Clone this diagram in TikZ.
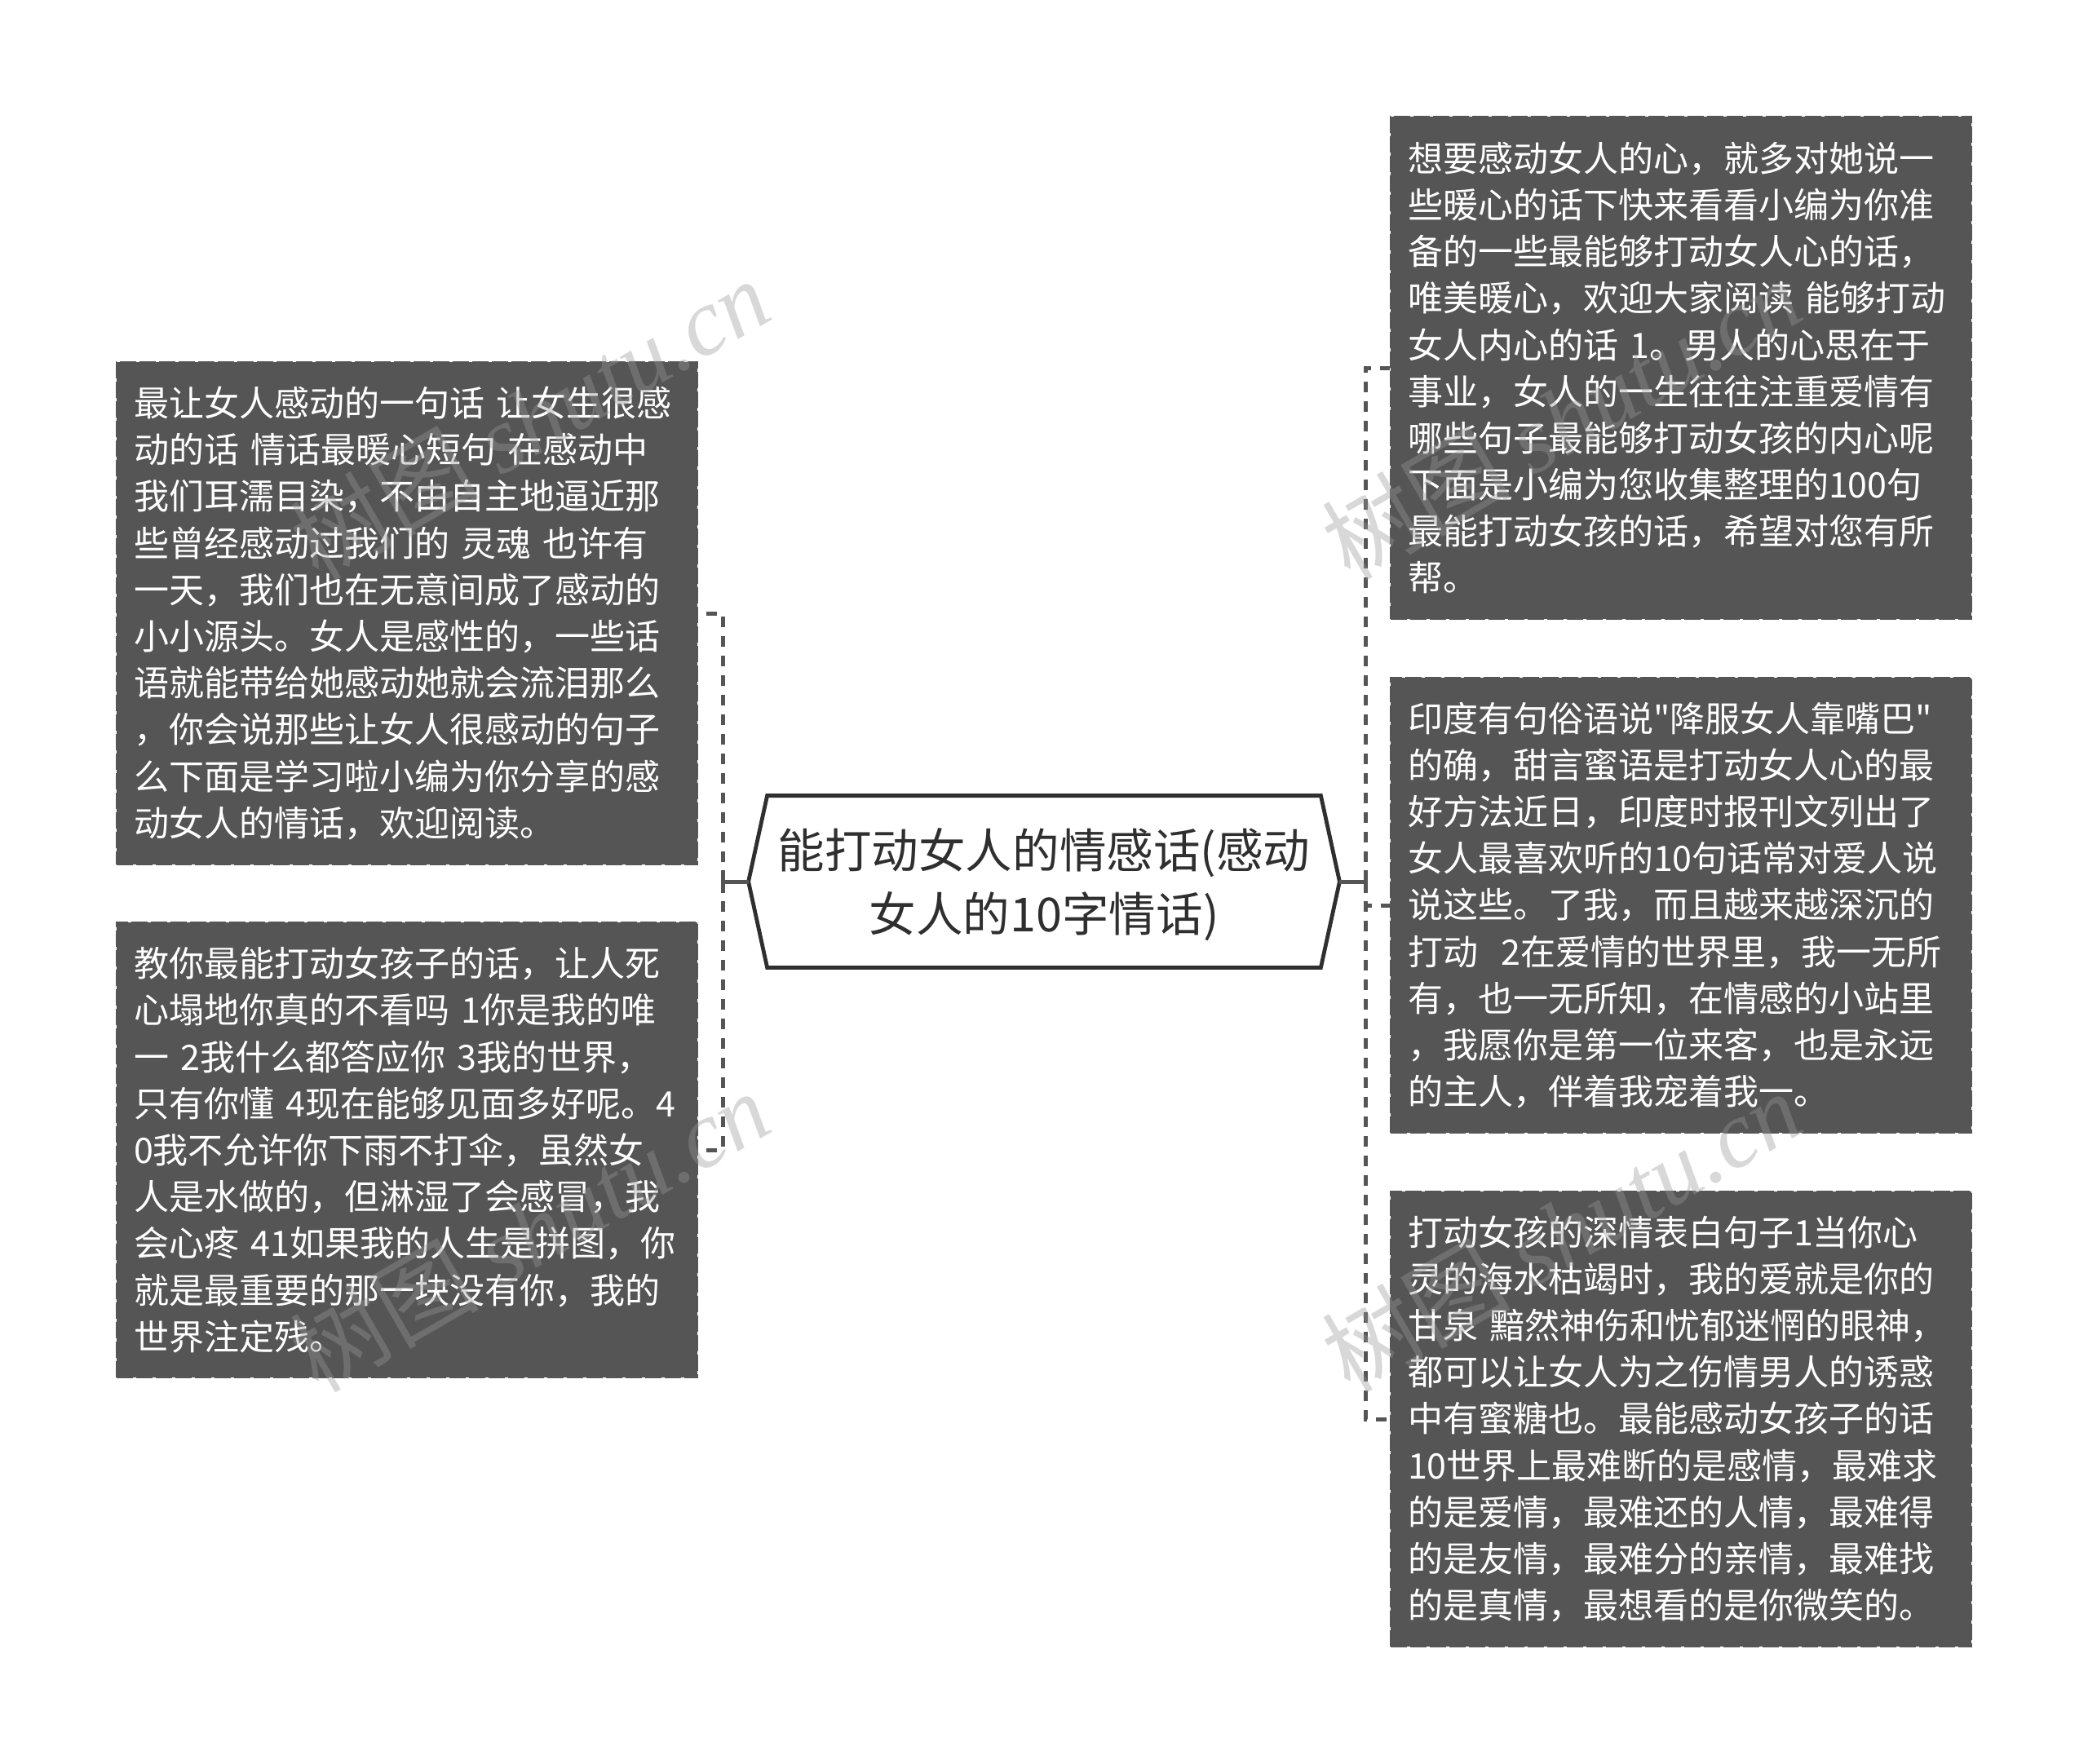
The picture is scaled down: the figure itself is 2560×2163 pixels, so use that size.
\documentclass[tikz,border=0pt]{standalone}
\usepackage{fontspec}
\newfontfamily\cjkfont{Noto Sans CJK SC}
\newfontfamily\markfont{Liberation Serif}
\usepackage{tikz}
\definecolor{boxgray}{HTML}{555555}
\definecolor{rootink}{HTML}{2F2F2F}
\tikzset{
  leaf/.style={fill=boxgray, draw=boxgray, dash pattern=on 10pt off 2pt, line width=1pt, text=white, inner sep=0pt,
    minimum width=356pt, text width=335pt, align=left,
    font=\cjkfont\fontsize{21.5}{28.6}\selectfont},
  rootbox/.style={inner sep=0pt, minimum width=362pt, minimum height=105pt, align=center,
    text=rootink, font=\cjkfont\fontsize{28.8}{39}\selectfont},
  rootline/.style={draw=rootink, line width=2.4pt},
  link/.style={draw=boxgray, line width=2.5pt, dash pattern=on 6.5pt off 5.5pt},
  stub/.style={draw=boxgray, line width=2.5pt},
  stamp/.style={text=black!40, opacity=0.38, rotate=30, font=\cjkfont\fontsize{58}{58}\selectfont}
}
\begin{document}
\begin{tikzpicture}[x=0.5pt,y=-0.5pt]
  \useasboundingbox (0,0) rectangle (2560,2163);

  % root
  \node[rootbox] (root) at (1280,1081) {\rule{0pt}{28.5pt}能打动女人的情感话(感动\\女人的10字情话)};
  \draw[rootline] (root.west) -- ([xshift=11.5pt]root.north west) -- ([xshift=-11.5pt]root.north east)
    -- (root.east) -- ([xshift=-11.5pt]root.south east) -- ([xshift=11.5pt]root.south west) -- cycle;

  % left side
  \node[leaf, minimum height=308pt] (left1) at (499,752) {最让女人感动的一句话 让女生很感\\动的话 情话最暖心短句 在感动中\\我们耳濡目染，不由自主地逼近那\\些曾经感动过我们的 灵魂 也许有\\一天，我们也在无意间成了感动的\\小小源头。女人是感性的，一些话\\语就能带给她感动她就会流泪那么\\，你会说那些让女人很感动的句子\\么下面是学习啦小编为你分享的感\\动女人的情话，欢迎阅读。};
  \node[leaf, minimum height=279pt] (left2) at (499,1410) {教你最能打动女孩子的话，让人死\\心塌地你真的不看吗 1你是我的唯\\一 2我什么都答应你 3我的世界，\\只有你懂 4现在能够见面多好呢。4\\0我不允许你下雨不打伞，虽然女\\人是水做的，但淋湿了会感冒，我\\会心疼 41如果我的人生是拼图，你\\就是最重要的那一块没有你，我的\\世界注定残。};

  % right side
  \node[leaf, minimum height=308pt] (right1) at (2061,451) {想要感动女人的心，就多对她说一\\些暖心的话下快来看看小编为你准\\备的一些最能够打动女人心的话，\\唯美暖心，欢迎大家阅读 能够打动\\女人内心的话 1。男人的心思在于\\事业，女人的一生往往注重爱情有\\哪些句子最能够打动女孩的内心呢\\下面是小编为您收集整理的100句\\最能打动女孩的话，希望对您有所\\帮。};
  \node[leaf, minimum height=279pt] (right2) at (2061,1110) {印度有句俗语说"降服女人靠嘴巴"\\的确，甜言蜜语是打动女人心的最\\好方法近日，印度时报刊文列出了\\女人最喜欢听的10句话常对爱人说\\说这些。了我，而且越来越深沉的\\打动\ \ 2在爱情的世界里，我一无所\\有，也一无所知，在情感的小站里\\，我愿你是第一位来客，也是永远\\的主人，伴着我宠着我一。};
  \node[leaf, minimum height=279pt] (right3) at (2061,1740) {打动女孩的深情表白句子1当你心\\灵的海水枯竭时，我的爱就是你的\\甘泉 黯然神伤和忧郁迷惘的眼神，\\都可以让女人为之伤情男人的诱惑\\中有蜜糖也。最能感动女孩子的话\\10世界上最难断的是感情，最难求\\的是爱情，最难还的人情，最难得\\的是友情，最难分的亲情，最难找\\的是真情，最想看的是你微笑的。};

  % connectors
  \coordinate (forkl) at (886,1081);
  \coordinate (forkr) at (1674,1081);
  \draw[stub] (root.west) -- (forkl);
  \draw[stub] (root.east) -- (forkr);
  \draw[stub] ([yshift=-7pt]forkl) -- ([yshift=7pt]forkl);
  \draw[stub] ([yshift=-7pt]forkr) -- ([yshift=7pt]forkr);
  \draw[link] (forkl) |- (left1.east);
  \draw[link] (forkl) |- (left2.east);
  \draw[link] (forkr) |- (right1.west);
  \draw[link] (forkr) |- (right2.west);
  \draw[link] (forkr) |- (right3.west);

  % watermarks
  \node[stamp] (stamp1) at (649,513) {树图 {\markfont\itshape shutu.cn}};
  \node[stamp] (stamp2) at (649,1509) {树图 {\markfont\itshape shutu.cn}};
  \node[stamp] (stamp3) at (1914,513) {树图 {\markfont\itshape shutu.cn}};
  \node[stamp] (stamp4) at (1914,1509) {树图 {\markfont\itshape shutu.cn}};
\end{tikzpicture}
\end{document}
